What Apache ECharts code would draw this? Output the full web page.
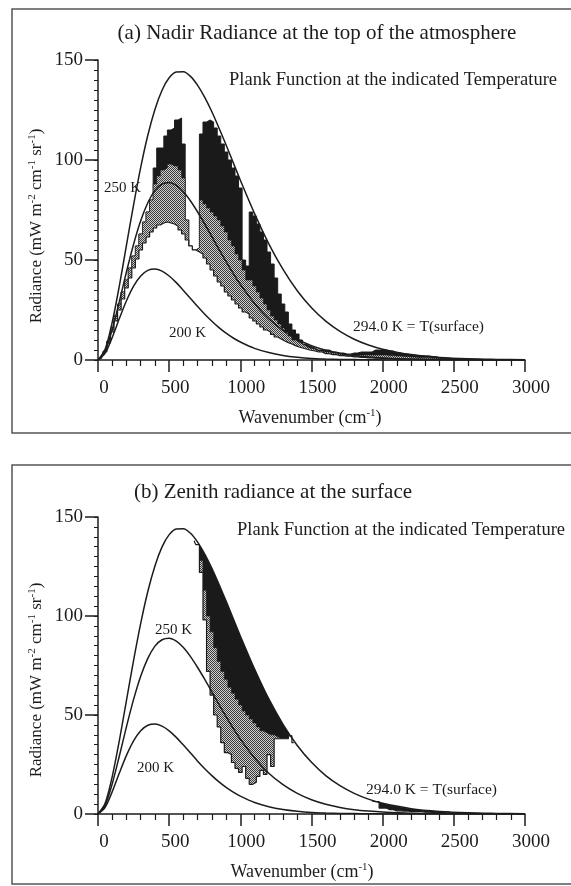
<!DOCTYPE html>
<html><head><meta charset="utf-8">
<script src="https://cdn.jsdelivr.net/npm/echarts@6/dist/echarts.min.js"></script>
<style>html,body{margin:0;padding:0;background:#fff}#c{width:571px;height:886px}</style>
</head><body><div id="c"></div>
<script>
// ---- Planck curves ----
const planckNu = [0,50,100,150,200,250,300,350,400,450,500,550,600,650,700,750,800,850,900,950,1000,
  1100,1200,1300,1400,1500,1600,1700,1800,1900,2000,2200,2400,2600,2800,3000];
const planck294 = [0,5.4,18.9,37.1,57.4,77.6,96.3,112.4,125.3,134.9,141.1,144.0,144.1,141.8,137.3,131.3,124.1,116.0,107.5,98.7,89.9,
  73.2,58.1,45.3,34.6,26.1,19.4,14.3,10.4,7.5,5.4,2.7,1.3,0.6,0.3,0.1];
const planck250 = [0,4.5,15.3,29.3,44.1,57.9,69.6,78.6,84.8,88.0,88.8,87.3,84.1,79.5,74.0,68.0,61.7,55.3,49.2,43.3,37.8,
  28.3,20.6,14.8,10.4,7.2,4.9,3.3,2.2,1.5,1.0,0.4,0.2,0.1,0,0];
const planck200 = [0,3.4,11.3,20.7,29.6,36.9,42.0,44.8,45.5,44.4,42.0,38.7,34.8,30.8,26.7,22.9,19.4,16.2,13.4,11.0,9.0,
  5.8,3.7,2.3,1.4,0.8,0.5,0.3,0.2,0.1,0.05,0,0,0,0,0];

// ---- (a) Nadir radiance at top of atmosphere ----
const specNu = [0,25,50,75,100,125,150,175,200,225,250,275,300,325,350,375,400,425,450,475,500,525,550,575,600,
  625,650,675,700,725,750,775,800,825,850,875,900,925,950,975,1000,1025,1050,1075,1100,1125,1150,1175,1200,1225,
  1250,1275,1300,1325,1350,1375,1400,1425,1450,1475,1500,
  1550,1600,1650,1700,1750,1800,1850,1900,1950,2000,2050,2100,2150,2200,2250,2300,2350,2400,2450,2500,
  2600,2800,3000];
const toaUpper = [0,1.2,4.5,9.5,16,22,28,34,40,46,52,57,63,69,74,80,
  96,106,106,112,115,116,120,121,108,
  70,57,55,56,
  113,119,120,119,116,112,108,104,100,96,92,86,
  50,47,
  74,72,68,64,60,54,48,41,33,28,24,18,15,13,10,8,7,6,
  5,5,4,3.5,3,3.5,4,4,5,5,4.5,3.5,3,2.5,2.2,2,1.6,1.2,0.9,0.6,
  0.3,0.1,0];
const toaMid = [0,1.2,4.5,9.5,16,22,28,34,40,46,52,57,63,69,74,80,
  88,92,95,96,98,97,97,95,91,
  70,57,55,56,
  80,78,76,74,72,70,67,64,60,57,53,50,
  45,40,
  40,37,34,31,28,25,22,20,18,16,14,12,10,9,8,7,6,5.5,
  4.5,4,3.5,3,2.7,2.5,2.5,2.5,2.5,2.5,2.2,2,1.8,1.5,1.3,1.2,1,0.8,0.6,0.5,
  0.3,0.1,0];
const toaLow = [0,1,4.2,8.5,14,19.5,25,30.5,36,41,46,50.5,55,58.5,61.5,64,
  66,67.5,68.5,69,68.5,68,67,65,63,
  60,57,55,54,
  53,51,48,45,42,39,37,34,32,30,28,26,
  24,23,
  21,19.5,18,16.5,15,14,12.8,11.5,10.5,9.5,8.7,8,7.2,6.5,6,5.5,5,4.5,
  4,3.2,2.7,2.2,1.9,1.6,1.3,1.1,0.9,0.8,0.7,0.6,0.5,0.5,0.4,0.3,0.3,0.3,0.2,0.1,
  0.1,0,0];

// ---- (b) Zenith radiance at the surface ('-' = no data) ----
const zenNu = [675,700,725,750,775,800,825,850,875,900,925,950,975,1000,1025,1050,1075,1100,1125,1150,1175,1200,1225,1250,1275,1300,1325,1350,1375,
  1376,1924,
  1925,1950,2000,2050,2100,2150,2200,2250,2300,2350,2400,2450,2475];
const zenTop = ['-',136.5,134.5,131.3,127.8,124.1,120.1,116.0,111.8,107.5,103.1,98.7,94.3,89.9,85.6,81.4,77.2,73.2,69.3,65.5,61.8,58.1,54.7,51.4,48.3,45.3,42.4,39.8,'-',
  '-','-',
  '-',6.3,5.4,4.5,3.8,3.2,2.7,2.2,1.9,1.6,1.3,1.1,'-'];
const zenMid = ['-',136,128,113,100,92,84,77,72,68,64,61,58,55,52,50,48,46,44,42,41,40,40,39,38,38,38,39.5,'-',
  '-','-',
  '-',6.2,3,2.2,1.6,1.5,1.2,1.2,0.9,0.8,0.7,1.0,'-'];
const zenLow = [138,136,122,98,72,60,50,44,36,31,30,26,23,21,24,18,15,16,19,22,20,30,24,38,38,38,38,39.5,36,
  '-','-',
  6.6,6.2,3,2.2,1.6,1.5,1.2,1.2,0.9,0.8,0.7,1.0,0.9];

const xTicks = [0,500,1000,1500,2000,2500,3000];
const yTicks = [0,50,100,150];

// ---- build ----
const dark = '#1c1c1c';
const serif = 'Liberation Serif';
function pairs(xs, ys){ return xs.map((x,i)=>[x, ys[i]]); }

const pc = document.createElement('canvas'); pc.width = 2; pc.height = 2;
const g = pc.getContext('2d');
g.fillStyle = '#d0d0d0'; g.fillRect(0,0,2,2);
g.fillStyle = '#3a3a3a'; g.fillRect(0,0,1,1); g.fillRect(1,1,1,1);
const stipple = {image: pc, repeat: 'repeat'};

function xAx(gi){
  return {type:'value', gridIndex:gi, min:xTicks[0], max:xTicks[xTicks.length-1], interval:xTicks[1]-xTicks[0], z:10,
    axisLine:{show:true, onZero:false, lineStyle:{color:dark, width:1.5}},
    axisTick:{show:true, length:12, lineStyle:{color:dark, width:1.5}},
    minorTick:{show:true, splitNumber:5, length:6, lineStyle:{color:dark, width:1.2}},
    axisLabel:{margin:19, fontSize:19, fontFamily:serif, color:dark, padding:[0,0,0,12], formatter:v=>String(v)},
    splitLine:{show:false}, minorSplitLine:{show:false}};
}
function yAx(gi){
  return {type:'value', gridIndex:gi, min:yTicks[0], max:yTicks[yTicks.length-1], interval:yTicks[1]-yTicks[0], z:10,
    axisLine:{show:true, onZero:false, lineStyle:{color:dark, width:1.5}},
    axisTick:{show:true, length:13, lineStyle:{color:dark, width:1.5}},
    axisLabel:{margin:15, fontSize:19, fontFamily:serif, color:dark, formatter:v=>String(v)},
    splitLine:{show:false}};
}
function yMinor(gi){
  return {type:'value', gridIndex:gi, min:yTicks[0], max:yTicks[yTicks.length-1], interval:5, z:11,
    axisLine:{show:false}, axisLabel:{show:false}, splitLine:{show:false},
    axisTick:{show:true, inside:true, length:4, lineStyle:{color:dark, width:1}}};
}
function area(xi, yi, data, fill, lw, z, step){
  return {type:'line', xAxisIndex:xi, yAxisIndex:yi, data:data, step:step, symbol:'none', silent:true, z:z,
    connectNulls:false, lineStyle:{color:dark, width:lw}, areaStyle:{color:fill, opacity:1}};
}
function curve(xi, yi, ys){
  return {type:'line', xAxisIndex:xi, yAxisIndex:yi, data:pairs(planckNu, ys), smooth:0.3, symbol:'none', silent:true, z:6,
    lineStyle:{color:dark, width:1.5}};
}

const series = [
  area(0,0,pairs(specNu,toaUpper),'#1a1a1a',1,2,'middle'),
  area(0,0,pairs(specNu,toaMid),stipple,0.6,3,'middle'),
  area(0,0,pairs(specNu,toaLow),'#ffffff',1.2,4,'middle'),
  curve(0,0,planck294), curve(0,0,planck250), curve(0,0,planck200),
  area(1,2,pairs(zenNu,zenTop),'#1a1a1a',0,2,false),
  area(1,2,pairs(zenNu,zenMid),stipple,0.6,3,'middle'),
  area(1,2,pairs(zenNu,zenLow),'#ffffff',1.2,4,'middle'),
  curve(1,2,planck294), curve(1,2,planck250), curve(1,2,planck200)
];

function txt(x, y, s, size, align){
  return {type:'text', x:x, y:y, z:20, silent:true,
    style:{text:s, fontSize:size, fontFamily:serif, fill:dark, textAlign:align||'left', align:align||'left',
      textVerticalAlign:'middle', verticalAlign:'middle'}};
}
const supRich = {s:{fontSize:11, fontFamily:serif, fill:dark, verticalAlign:'top', lineHeight:12}};
function richTxt(x, y, s, size, rot){
  return {type:'text', x:x, y:y, z:20, silent:true, rotation:rot||0,
    style:{text:s, fontSize:size, fontFamily:serif, fill:dark, textAlign:'center', align:'center',
      textVerticalAlign:'middle', verticalAlign:'middle', lineHeight:20, rich:supRich}};
}

const graphics = [
  {type:'rect', z:0, silent:true, shape:{x:12, y:9, width:575, height:424}, style:{fill:'none', stroke:'#555', lineWidth:1.5}},
  {type:'rect', z:0, silent:true, shape:{x:12, y:465, width:575, height:419}, style:{fill:'none', stroke:'#555', lineWidth:1.5}},
  txt(317, 33, '(a) Nadir Radiance at the top of the atmosphere', 21, 'center'),
  txt(229, 80, 'Plank Function at the indicated Temperature', 18.5, 'left'),
  txt(104, 188, '250 K', 15, 'left'),
  txt(169, 333, '200 K', 15, 'left'),
  txt(353, 327, '294.0 K = T(surface)', 15.5, 'left'),
  richTxt(37, 226, 'Radiance (mW m{s|-2} cm{s|-1} sr{s|-1})', 17, Math.PI/2),
  richTxt(310, 418, 'Wavenumber (cm{s|-1})', 18, 0),
  txt(273, 492, '(b) Zenith radiance at the surface', 21, 'center'),
  txt(237, 530, 'Plank Function at the indicated Temperature', 18.5, 'left'),
  txt(155, 630, '250 K', 15, 'left'),
  txt(137, 768, '200 K', 15, 'left'),
  txt(366, 790, '294.0 K = T(surface)', 15.5, 'left'),
  richTxt(37, 680, 'Radiance (mW m{s|-2} cm{s|-1} sr{s|-1})', 17, Math.PI/2),
  richTxt(302, 872, 'Wavenumber (cm{s|-1})', 18, 0)
];

const chart = echarts.init(document.getElementById('c'), null, {renderer:'canvas'});
chart.setOption({
  animation:false,
  backgroundColor:'#ffffff',
  grid:[{left:98, top:60, width:427, height:300}, {left:98, top:517, width:427, height:297}],
  xAxis:[xAx(0), xAx(1)],
  yAxis:[yAx(0), yMinor(0), yAx(1), yMinor(1)],
  series:series,
  graphic:graphics
});
</script></body></html>
